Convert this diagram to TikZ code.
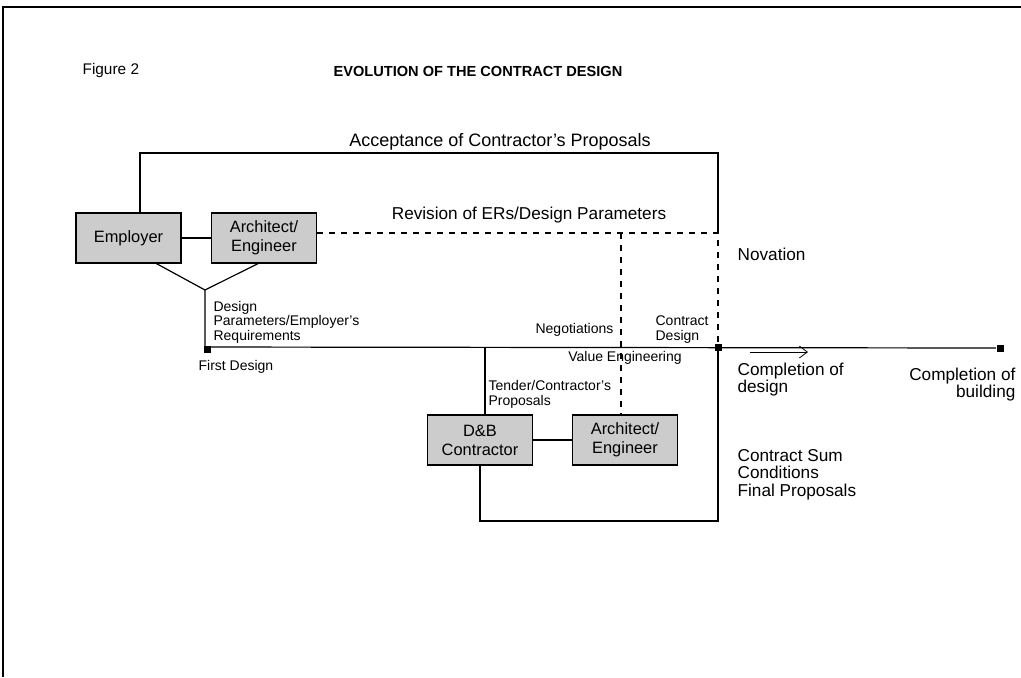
\documentclass[tikz,border=0pt]{standalone}
\usepackage{fontspec}
\setmainfont{Liberation Sans}
\usetikzlibrary{positioning,arrows.meta}

\tikzset{
  box/.style={draw, fill=black!20, minimum width=52.5pt, minimum height=25pt,
    align=center, inner sep=1pt, font=\fontsize{8.2}{9.6}\selectfont},
  lbl/.style={inner sep=0pt, font=\fontsize{8.6}{8.6}\selectfont},
  small/.style={inner sep=0pt, align=left, font=\fontsize{7}{7.3}\selectfont},
  milestone/.style={fill=black, inner sep=0pt, minimum size=3.5pt},
}

\begin{document}
\begin{tikzpicture}[x=0.5pt, y=-0.5pt, line width=0.6pt]
    \useasboundingbox (0,0) rectangle (1021,677);
    % frame
    \draw (3,677) -- (3,7) -- (1021,7);
    \node[lbl, anchor=west, font=\fontsize{7.7}{9}\selectfont] (fig) at (82,71) {Figure 2};
    \node[lbl, anchor=west, font=\fontsize{7.3}{9}\bfseries] (title) at (333,71) {EVOLUTION OF THE CONTRACT DESIGN};

    % parties
    \node[box] (emp) at (128.5,238) {Employer};
    \node[box] (arch) at (264,238) {Architect/\\Engineer};
    \node[box] (db) at (480,440) {D\&B\\Contractor};
    \node[box] (arch2) at (625,440) {Architect/\\Engineer};

    % milestones on the time line
    \node[milestone] (first) at (207,349) {};
    \node[milestone] (cd) at (718,347) {};
    \node[milestone] (cb) at (1000,348) {};
    \coordinate (fork) at (205,290);
    \coordinate (accL) at (140,153);
    \coordinate (accR) at (718,153);
    \coordinate (revR) at (718,233);
    \coordinate (neg) at (621,233);
    \coordinate (tendT) at (485,347);
    \coordinate (botR) at (718,521);
    \coordinate (arrS) at (750,352);
    \coordinate (arrE) at (808,352);

    % labels below the lines
    \node[small] (ve) at (625,358) {Value Engineering};

    \draw (emp) -- (arch);
    \draw (db) -- (arch2);
    \draw (emp.north -| accL) -- (accL) -- (accR) -- (revR);
    \draw[dashed] (arch.east |- revR) -- (revR) -- (cd);
    \draw[dashed] (neg) -- (neg |- arch2.north);
    \draw ([xshift=14pt]emp.south) -- (fork) -- ([xshift=-3pt]arch.south);
    \draw (fork) -- (fork |- cd) -- (cb);
    \draw (tendT) -- (tendT |- db.north);
    \draw (db.south) |- (botR) -- (cd);
    \draw[-{Straight Barb[length=4pt,width=6pt]}, line width=0.4pt] (arrS) -- (arrE);

    % labels
    \node[lbl, font=\fontsize{9}{9}\selectfont] (acc) at (500,142) {Acceptance of Contractor's Proposals};
    \node[lbl] (rev) at (529,215) {Revision of ERs/Design Parameters};
    \node[lbl, anchor=west] (nov) at (737,254) {Novation};
    \node[small, anchor=south west] (dpar) at (213,344) {Design\\Parameters/Employer's\\Requirements};
    \node[small, anchor=north west] (fd) at (198,360) {First Design};
    \node[small, anchor=east] (negl) at (614,330) {Negotiations};
    \node[small, anchor=south west] (cdl) at (655,344) {Contract\\Design};
    \node[small, anchor=north west] (tend) at (488,380) {Tender/Contractor's\\Proposals};
    \node[lbl, anchor=north west, align=left] (cdes) at (737,362) {Completion of\\design};
    \node[lbl, anchor=north east, align=right] (cbl) at (1016,367) {Completion of\\building};
    \node[lbl, anchor=north west, align=left] (csum) at (737,449) {Contract Sum\\Conditions\\Final Proposals};
\end{tikzpicture}
\end{document}
